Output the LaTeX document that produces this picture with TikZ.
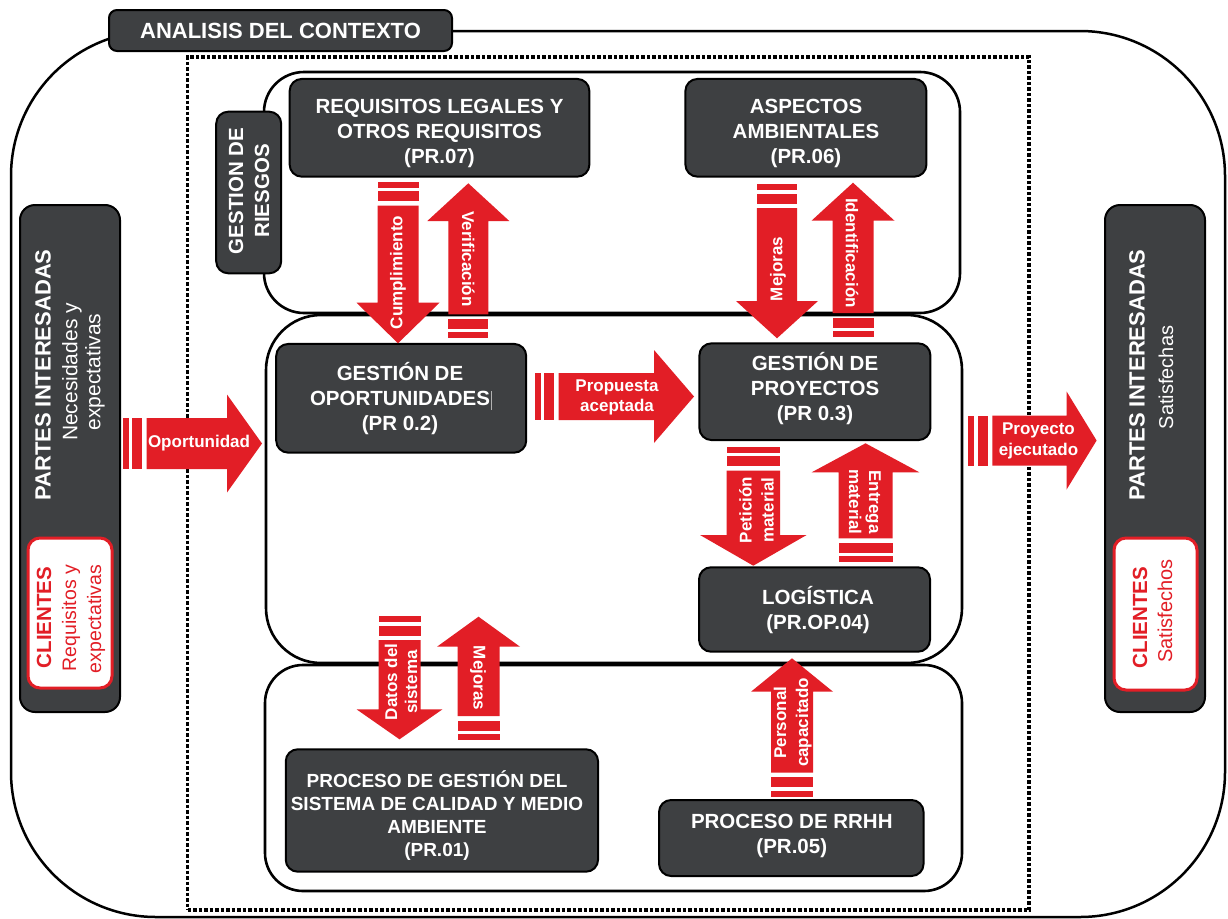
\documentclass[tikz,border=0pt]{standalone}
\usepackage{fontspec}
\setmainfont{Liberation Sans}
\definecolor{boxgray}{HTML}{3E4042}
\definecolor{arrowred}{HTML}{E21E26}
\newcommand{\rsarrow}[7]{%
  \begin{scope}[shift={(#1,#2)}, rotate=#3]
    \fill[arrowred] (0,-#5) rectangle (6,#5);
    \fill[arrowred] (9.5,-#5) rectangle (19.5,#5);
    \fill[arrowred] (24,-#5) -- ({#4-#7},-#5) -- ({#4-#7},-#6) -- (#4,0)
      -- ({#4-#7},#6) -- ({#4-#7},#5) -- (24,#5) -- cycle;
  \end{scope}}
\begin{document}
\begin{tikzpicture}[x=1pt,y=-1pt,
  darkbox/.style={draw=black, line width=2pt, fill=boxgray, rounded corners=12pt, inner sep=0pt},
  boxtxt/.style={text=white, font=\bfseries\fontsize{20.5}{25}\selectfont, align=center, inner sep=0pt},
  arrowtxt/.style={text=white, font=\bfseries\fontsize{17}{20.5}\selectfont, align=center, inner sep=0pt},
  groupframe/.style={draw=black, line width=2.6pt, inner sep=0pt},
  partestxt/.style={text=white, inner sep=0pt, rotate=90},
  clientebox/.style={draw=arrowred, line width=3pt, fill=white, rounded corners=12pt, inner sep=0pt},
  clientetxt/.style={text=arrowred, inner sep=0pt, rotate=90}]
\useasboundingbox (0,0) rectangle (1228,918);
\fill[white] (0,0) rectangle (1228,918);

% outer frame and context
\node[draw=black, line width=2.5pt, rounded corners=145pt, minimum width=1214pt, minimum height=886pt, inner sep=0pt] (frame) at (618,474) {};
\node[draw=black, line width=3.3pt, dash pattern=on 3.5pt off 2pt, minimum width=841.5pt, minimum height=853pt, inner sep=0pt] (ctx) at (608.25,483.5) {};

% groups
\node[groupframe, rounded corners=40pt, minimum width=696pt, minimum height=241pt] (gtop) at (612,192.5) {};
\node[groupframe, rounded corners=55pt, minimum width=696pt, minimum height=348pt] (gmid) at (614,489) {};
\node[groupframe, rounded corners=38pt, minimum width=697pt, minimum height=226pt] (gbot) at (613.5,778) {};

% title
\node[darkbox, rounded corners=8pt, minimum width=343pt, minimum height=41pt] (title) at (280.5,30.5) {};
\node[boxtxt, font=\bfseries\fontsize{22}{26}\selectfont] (titlet) at (280.5,31) {ANALISIS DEL CONTEXTO};

% partes interesadas left
\node[darkbox, rounded corners=15pt, minimum width=100pt, minimum height=507pt] (pil) at (70,458.5) {};
\node[partestxt, font=\bfseries\fontsize{22}{26}\selectfont] (pilt) at (43,375) {PARTES INTERESADAS};
\node[partestxt, font=\fontsize{21}{23}\selectfont] (pils1) at (72,372) {Necesidades y};
\node[partestxt, font=\fontsize{21}{23}\selectfont] (pils2) at (95,372) {expectativas};
\node[clientebox, minimum width=84pt, minimum height=150pt] (cll) at (70,613) {};
\node[clientetxt, font=\bfseries\fontsize{20.5}{24}\selectfont] (cllt) at (44,617.5) {CLIENTES};
\node[clientetxt, font=\fontsize{19.5}{22}\selectfont] (clls1) at (71,618) {Requisitos y};
\node[clientetxt, font=\fontsize{19.5}{22}\selectfont] (clls2) at (96,619) {expectativas};

% partes interesadas right
\node[darkbox, rounded corners=15pt, minimum width=100pt, minimum height=507pt] (pir) at (1155,458.5) {};
\node[partestxt, font=\bfseries\fontsize{22}{26}\selectfont] (pirt) at (1137,375) {PARTES INTERESADAS};
\node[partestxt, font=\fontsize{20}{22}\selectfont] (pirs) at (1166,377.5) {Satisfechas};
\node[clientebox, minimum width=83pt, minimum height=152pt] (clr) at (1155.5,614) {};
\node[clientetxt, font=\bfseries\fontsize{20.5}{24}\selectfont] (clrt) at (1140,617.5) {CLIENTES};
\node[clientetxt, font=\fontsize{20}{22}\selectfont] (clrs) at (1165,611) {Satisfechos};

% process boxes
\node[darkbox, minimum width=65pt, minimum height=161.6pt] (ries) at (248.7,192.5) {};
\node[boxtxt, rotate=90, font=\bfseries\fontsize{20.5}{26}\selectfont] (riest) at (249,191) {GESTION DE\\RIESGOS};

\node[darkbox, minimum width=299.7pt, minimum height=97.7pt] (req) at (439.5,127.8) {};
\node[boxtxt] (reqt) at (439.5,133) {REQUISITOS LEGALES Y\\OTROS REQUISITOS\\(PR.07)};

\node[darkbox, minimum width=241pt, minimum height=97.7pt] (asp) at (805.9,127.8) {};
\node[boxtxt] (aspt) at (806,133) {ASPECTOS\\AMBIENTALES\\(PR.06)};

\node[darkbox, minimum width=250pt, minimum height=108.7pt] (opo) at (401.2,398.3) {};
\node[boxtxt] (opot) at (400,398.5) {GESTIÓN DE\\OPORTUNIDADES\\(PR 0.2)};
\draw[gray!60, line width=0.8pt] (491,391) -- (491,410);

\node[darkbox, minimum width=231pt, minimum height=96.7pt] (pro) at (814.9,391.7) {};
\node[boxtxt] (prot) at (815,388.5) {GESTIÓN DE\\PROYECTOS\\(PR 0.3)};

\node[darkbox, minimum width=231pt, minimum height=84.4pt] (log) at (814.5,609.5) {};
\node[boxtxt] (logt) at (818,610.5) {LOGÍSTICA\\(PR.OP.04)};

\node[darkbox, minimum width=312.3pt, minimum height=122.4pt] (sgc) at (441.9,810.5) {};
\node[boxtxt, font=\bfseries\fontsize{19}{23}\selectfont] (sgct) at (437,816) {PROCESO DE GESTIÓN DEL\\SISTEMA DE CALIDAD Y MEDIO\\AMBIENTE\\(PR.01)};

\node[darkbox, minimum width=264.5pt, minimum height=76pt] (rrhh) at (791.3,838) {};
\node[boxtxt] (rrhht) at (791.8,835.5) {PROCESO DE RRHH\\(PR.05)};

% red block arrows: tail x, tail y, angle, length, body half-width, head half-width, head length
\rsarrow{122.7}{443.5}{0}{139.3}{25.5}{49}{35}
\rsarrow{534.6}{396.5}{0}{159.4}{23.5}{46.5}{40}
\rsarrow{968.4}{440.5}{0}{128.2}{25}{49}{30}
\rsarrow{398}{181.7}{-90}{161.6}{20.5}{41.5}{40.6}
\rsarrow{468.3}{338.3}{90}{155}{20}{41}{37.7}
\rsarrow{777}{184}{-90}{154.3}{20.2}{41}{37.3}
\rsarrow{853}{337}{90}{154.3}{20.5}{41.5}{38}
\rsarrow{753.3}{446.7}{-90}{119}{26.7}{53.3}{30.7}
\rsarrow{865.5}{562.3}{90}{119}{27}{53.8}{29}
\rsarrow{399.5}{616}{-90}{123.3}{21}{43}{30}
\rsarrow{478.5}{740}{90}{123.3}{21}{41.5}{30}
\rsarrow{792}{796.7}{90}{138.4}{21}{41}{33.4}

% arrow labels
\node[arrowtxt] (l1) at (199,443) {Oportunidad};
\node[arrowtxt, font=\bfseries\fontsize{17}{20}\selectfont] (l2) at (617,397) {Propuesta\\aceptada};
\node[arrowtxt] (l3) at (1038.5,441) {Proyecto\\ejecutado};
\node[arrowtxt, rotate=90] (l4) at (398,272.5) {Cumplimiento};
\node[arrowtxt, rotate=-90] (l5) at (468.3,259) {Verificación};
\node[arrowtxt, rotate=90] (l6) at (778,269) {Mejoras};
\node[arrowtxt, rotate=-90] (l7) at (852,253) {Identificación};
\node[arrowtxt, rotate=90, font=\bfseries\fontsize{17}{22}\selectfont] (l8) at (756.5,510) {Petición\\material};
\node[arrowtxt, rotate=-90, font=\bfseries\fontsize{17}{20}\selectfont] (l9) at (865,502) {Entrega\\material};
\node[arrowtxt, rotate=90, font=\bfseries\fontsize{17}{20}\selectfont] (l10) at (401,682) {Datos del\\sistema};
\node[arrowtxt, rotate=-90] (l11) at (478,678) {Mejoras};
\node[arrowtxt, rotate=90, font=\bfseries\fontsize{17}{22}\selectfont] (l12) at (792.6,722.5) {Personal\\capacitado};
\end{tikzpicture}
\end{document}
